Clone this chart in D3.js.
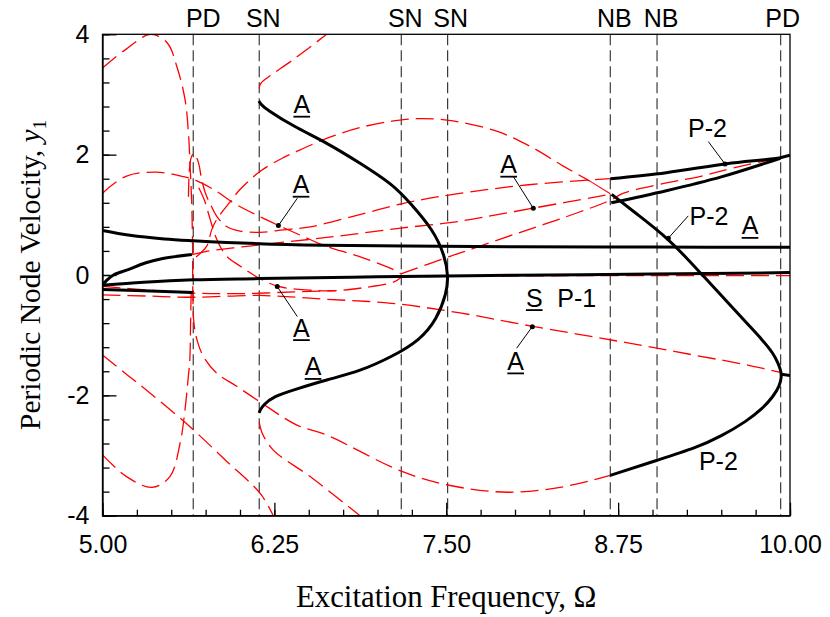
<!DOCTYPE html>
<html>
<head>
<meta charset="utf-8">
<script src="https://cdn.jsdelivr.net/npm/d3@7"></script>
<style>
  body { margin: 0; background: #fff; }
  svg { display: block; }
  .sans { font-family: "Liberation Sans", Arial, Helvetica, sans-serif; }
  .serif { font-family: "Liberation Serif", "Times New Roman", serif; }
</style>
</head>
<body>
<svg id="chart" width="830" height="617"></svg>
<script>
// Axis ranges and tick values
const xDomain = [5, 10];
const yDomain = [-4, 4];
const xMajor = [5, 6.25, 7.5, 8.75, 10];
const xMinor = d3.range(5, 10.0001, 0.25);
const yMajor = [-4, -2, 0, 2, 4];
const yMinor = d3.range(-4, 4.0001, 0.4);

// Bifurcation frequencies (vertical markers)
const bifOmega = [5.66, 6.14, 7.173, 7.51, 8.693, 9.033, 9.932];
const bifLabel = ["PD", "SN", "SN", "SN", "NB", "NB", "PD"];

// Stable periodic branches [Ω, y1]
const p1Upper = [[5.0,0.74],[5.2,0.66],[5.45,0.6],[5.66,0.57],[6.14,0.52],[6.6,0.495],[7.2,0.48],[8.0,0.47],[9.0,0.465],[10,0.46]];
const p1Lower = [[5.0,-0.17],[5.3,-0.12],[5.66,-0.08],[6.14,-0.06],[7.0,-0.03],[8.0,-0.005],[9.0,0.015],[10,0.04]];
const p1Rising = [[5.0,-0.17],[5.03,-0.09],[5.08,0.0],[5.187,0.09],[5.31,0.2],[5.43,0.27],[5.65,0.34]];
const p1Short = [[5.0,-0.24],[5.3,-0.26],[5.66,-0.29]];
const p1Fold = [[6.138,2.89],[6.15,2.84],[6.194,2.75],[6.388,2.47],[6.631,2.2],[6.873,1.86],[7.115,1.5],[7.236,1.2],[7.406,0.75],[7.491,0.31],[7.515,-0.02],[7.503,-0.3],[7.431,-0.74],[7.309,-1.08],[7.113,-1.35],[6.873,-1.6],[6.631,-1.74],[6.388,-1.91],[6.242,-2.02],[6.169,-2.16],[6.145,-2.25],[6.14,-2.29]];
const p2Upper = [[8.693,1.6],[9.1,1.7],[9.54,1.85],[9.93,1.95],[10,1.99]];
const p2Lower = [[8.7,1.2],[9.1,1.4],[9.5,1.63],[9.93,1.94]];
const p2Fold = [[8.703,1.34],[8.9,0.99],[9.079,0.67],[9.23,0.33],[9.37,-0.02],[9.53,-0.41],[9.685,-0.8],[9.8,-1.08],[9.878,-1.3],[9.915,-1.47],[9.935,-1.6],[9.938,-1.7],[9.925,-1.84],[9.878,-2.02],[9.8,-2.22],[9.685,-2.43],[9.5,-2.68],[9.32,-2.87],[9.03,-3.08],[8.693,-3.33]];
const p2Tail = [[9.938,-1.65],[10,-1.67]];

// Unstable branches [Ω, y1]
const uTopArc = [[5.0,3.44],[5.17,3.75],[5.35,4.0],[5.47,3.86],[5.54,3.47],[5.6,2.92],[5.625,2.36],[5.637,1.81],[5.648,1.25],[5.655,0.5],[5.657,-0.3],[5.665,-0.8],[5.69,-1.1],[5.733,-1.35],[5.83,-1.63],[5.976,-1.85],[6.14,-2.1],[6.41,-2.49],[6.63,-2.66],[7.173,-3.26],[7.51,-3.49],[7.95,-3.61],[8.35,-3.52],[8.693,-3.33]];
const uValley = [[5.0,-2.99],[5.175,-3.35],[5.36,-3.53],[5.49,-3.35],[5.564,-2.8],[5.6,-2.24],[5.624,-1.69],[5.635,-1.41],[5.64,-0.9],[5.643,-0.5],[5.645,-0.3]];
const uDiagonal = [[5.0,-1.33],[5.18,-1.66],[5.345,-1.96],[5.55,-2.35],[5.66,-2.57],[5.9,-3.09],[6.147,-3.63],[6.242,-4.0]];
const uBubble = [[5.625,1.3],[5.632,1.75],[5.645,1.95],[5.662,2.02],[5.68,1.97],[5.7,1.85],[5.72,1.6],[5.75,1.35],[5.79,1.15],[5.83,0.98],[5.9,0.81],[6.0,0.73],[6.145,0.71],[6.315,0.75],[6.51,0.8],[6.8,0.96],[7.17,1.18],[7.55,1.34],[8.1,1.5],[8.69,1.6]];
const uHump = [[5.0,1.36],[5.17,1.64],[5.39,1.71],[5.58,1.64],[5.66,1.59],[5.83,1.39],[5.95,1.2],[6.19,0.92],[6.51,0.59],[6.6,0.5],[6.9,0.28],[7.115,0.09],[7.17,0.02]];
const uLowerDip = [[5.7,1.45],[5.74,1.25],[5.78,0.95],[5.83,0.6],[5.9,0.32],[6.0,0.15],[6.145,-0.06],[6.28,-0.19],[6.5,-0.25],[6.7,-0.26],[6.9,-0.21],[7.115,-0.12],[7.17,-0.04]];
const uMiddle = [[5.65,0.34],[5.75,0.39],[5.95,0.45],[6.14,0.5],[6.5,0.59],[6.8,0.67],[7.17,0.78],[7.527,0.87],[7.67,0.92],[8.13,1.11],[8.69,1.34]];
const uRising = [[7.17,0.02],[7.527,0.31],[7.67,0.42],[8.0,0.68],[8.35,0.95],[8.69,1.24],[8.79,1.36],[9.1,1.53],[9.35,1.64],[9.59,1.78],[9.93,1.95]];
const uBigArc = [[5.68,0.3],[5.758,0.48],[5.794,0.75],[5.83,0.92],[5.93,1.22],[6.0,1.42],[6.145,1.72],[6.315,1.95],[6.39,2.03],[6.63,2.27],[6.873,2.45],[7.115,2.56],[7.31,2.6],[7.55,2.56],[7.867,2.39],[8.109,2.14],[8.351,1.81],[8.545,1.56]];
const uBigArcEnd = [[8.545,1.56],[8.693,1.35]];
const uFoldTop = [[6.14,3.1],[6.15,3.18],[6.194,3.27],[6.388,3.58],[6.63,4.0]];
const uFoldBottom = [[6.14,-2.45],[6.16,-2.62],[6.242,-2.91],[6.51,-3.35],[6.873,-4.0]];
const uLongDecline = [[5.0,-0.33],[5.33,-0.35],[5.66,-0.37],[6.14,-0.34],[6.6,-0.4],[7.1,-0.47],[7.6,-0.63],[8.12,-0.85],[8.75,-1.1],[9.3,-1.33],[9.7,-1.5],[9.93,-1.62]];
const uShortFlat = [[5.0,-0.19],[5.33,-0.25],[5.66,-0.3],[6.0,-0.31],[6.4,-0.28],[6.7,-0.26]];
const uAlongP1 = [[7.17,-0.03],[8.5,-0.01],[10,-0.01]];

// Branch annotations, anchored in data coordinates
const notes = [
  {t:"A", u:true, w:6.449, v:2.689},
  {t:"A", u:true, w:6.444, v:1.359, from:[6.417,1.276], to:[6.279,0.821]},
  {t:"A", u:true, w:7.954, v:1.692, from:[7.988,1.635], to:[8.133,1.11]},
  {t:"A", u:true, w:6.447, v:-1.024, from:[6.417,-0.691], to:[6.271,-0.193]},
  {t:"A", u:true, w:6.531, v:-1.669},
  {t:"S", u:true, w:8.14, v:-0.525},
  {t:"P-1", u:false, w:8.308, v:-0.525, start:true},
  {t:"A", u:true, w:8.005, v:-1.577, from:[8.012,-1.217], to:[8.126,-0.858]},
  {t:"P-2", u:false, w:9.4, v:2.29, from:[9.406,2.217], to:[9.527,1.846]},
  {t:"P-2", u:false, w:9.411, v:0.833, from:[9.26,0.982], to:[9.115,0.612]},
  {t:"A", u:true, w:9.709, v:0.675},
  {t:"P-2", u:false, w:9.479, v:-3.239}
];

const svg = d3.select("#chart");
const pL = 102.5, pR = 790, pT = 34.3, pB = 515.7;
const x = d3.scaleLinear().domain(xDomain).range([pL, pR]);
const y = d3.scaleLinear().domain(yDomain).range([pB, pT]);

svg.append("defs").append("clipPath").attr("id", "plot")
  .append("rect").attr("x", pL).attr("y", pT)
  .attr("width", pR - pL).attr("height", pB - pT);

const line = d3.line().x(d => x(d[0])).y(d => y(d[1])).curve(d3.curveCatmullRom.alpha(0.5));
const smooth = d3.line().x(d => x(d[0])).y(d => y(d[1])).curve(d3.curveBasis);
const plot = svg.append("g").attr("clip-path", "url(#plot)");

// bifurcation markers
plot.selectAll("line.bif").data(bifOmega).join("line")
  .attr("class", "bif")
  .attr("x1", d => x(d)).attr("x2", d => x(d))
  .attr("y1", pT).attr("y2", pB)
  .attr("stroke", "#3a3a3a").attr("stroke-width", 1.2)
  .attr("stroke-dasharray", "11,5");

// unstable branches: dashed red
const unstable = [uTopArc, uValley, uDiagonal, uBubble, uHump, uLowerDip, uMiddle,
  uRising, uBigArc, uFoldTop, uFoldBottom, uLongDecline, uShortFlat, uAlongP1];
plot.selectAll("path.unstable").data(unstable).join("path")
  .attr("class", "unstable")
  .attr("d", line).attr("fill", "none")
  .attr("stroke", "#ff0000").attr("stroke-width", 1.3)
  .attr("stroke-dasharray", "18,7");
plot.append("path").datum(uBigArcEnd)
  .attr("d", line).attr("fill", "none")
  .attr("stroke", "#ff0000").attr("stroke-width", 1.1);

// stable branches: solid black
const stable = [p1Upper, p1Lower, p1Rising, p1Short, p2Upper, p2Lower, p2Tail];
plot.selectAll("path.stable").data(stable).join("path")
  .attr("class", "stable")
  .attr("d", line).attr("fill", "none")
  .attr("stroke", "#000").attr("stroke-width", 3)
  .attr("stroke-linejoin", "round");
// folded stable branches, smoothed
plot.selectAll("path.fold").data([p1Fold, p2Fold]).join("path")
  .attr("class", "fold")
  .attr("d", smooth).attr("fill", "none")
  .attr("stroke", "#000").attr("stroke-width", 3)
  .attr("stroke-linejoin", "round");

// frame
svg.append("rect").attr("x", pL).attr("y", pT)
  .attr("width", pR - pL).attr("height", pB - pT)
  .attr("fill", "none").attr("stroke", "#000").attr("stroke-width", 1.3);

// axes with inward ticks
svg.append("g").attr("transform", `translate(0,${pB})`)
  .call(d3.axisBottom(x).tickValues(xMajor).tickSize(-13).tickSizeOuter(0)
    .tickPadding(20).tickFormat(d3.format(".2f")));
svg.append("g").attr("transform", `translate(0,${pB})`)
  .call(d3.axisBottom(x).tickValues(xMinor).tickSize(-6).tickSizeOuter(0).tickFormat(""))
  .call(g => g.select(".domain").remove());
svg.append("g").attr("transform", `translate(${pL},0)`)
  .call(d3.axisLeft(y).tickValues(yMajor).tickSize(-14).tickSizeOuter(0)
    .tickPadding(13).tickFormat(d => d < 0 ? "-" + Math.abs(d) : String(d)));
svg.append("g").attr("transform", `translate(${pL},0)`)
  .call(d3.axisLeft(y).tickValues(yMinor).tickSize(-7).tickSizeOuter(0).tickFormat(""))
  .call(g => g.select(".domain").remove());

svg.selectAll(".tick line, .domain").attr("stroke", "#000").attr("stroke-width", 1.3);
svg.selectAll(".tick text")
  .attr("font-size", 25).attr("fill", "#000")
  .style("font-family", "'Liberation Sans', Arial, sans-serif");

// bifurcation labels along the top
const labelShift = [10, 4, 4, 3, 4, 4, 2];
svg.selectAll("text.bif").data(bifOmega).join("text")
  .attr("class", "bif sans")
  .attr("x", (d, i) => x(d) + labelShift[i]).attr("y", 26.7)
  .attr("text-anchor", "middle").attr("font-size", 25)
  .text((d, i) => bifLabel[i]);

// annotations
const ann = svg.append("g").attr("class", "sans");
notes.forEach(n => {
  const t = ann.append("text")
    .attr("x", x(n.w)).attr("y", y(n.v))
    .attr("text-anchor", n.start ? "start" : "middle")
    .attr("font-size", 25).text(n.t);
  if (n.u) {
    const wdt = t.node().getComputedTextLength();
    ann.append("line")
      .attr("x1", x(n.w) - wdt / 2).attr("x2", x(n.w) + wdt / 2)
      .attr("y1", y(n.v) + 3.5).attr("y2", y(n.v) + 3.5)
      .attr("stroke", "#000").attr("stroke-width", 1.8);
  }
  if (n.from) {
    ann.append("line")
      .attr("x1", x(n.from[0])).attr("y1", y(n.from[1]))
      .attr("x2", x(n.to[0])).attr("y2", y(n.to[1]))
      .attr("stroke", "#000").attr("stroke-width", 1);
    ann.append("circle")
      .attr("cx", x(n.to[0])).attr("cy", y(n.to[1])).attr("r", 2.5)
      .attr("fill", "#000");
  }
});

// axis titles
svg.append("text").attr("class", "serif")
  .attr("x", (pL + pR) / 2).attr("y", 606.7)
  .attr("text-anchor", "middle").attr("font-size", 30.8)
  .text("Excitation Frequency, Ω");
const yt = svg.append("text").attr("class", "serif")
  .attr("transform", `translate(40,${(pT + pB) / 2}) rotate(-90)`)
  .attr("text-anchor", "middle").attr("font-size", 29.5);
yt.append("tspan").text("Periodic Node Velocity, ");
yt.append("tspan").attr("font-style", "italic").text("y");
yt.append("tspan").attr("font-size", 18.5).attr("dy", 6).text("1");
</script>
</body>
</html>
